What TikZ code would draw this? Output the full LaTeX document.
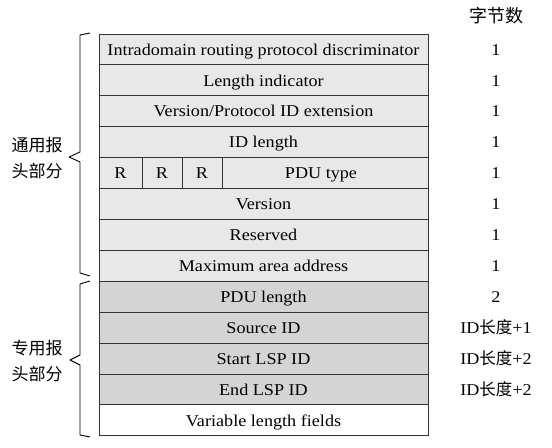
\documentclass[tikz,border=0pt]{standalone}
\usepackage{fontspec}
\setmainfont{Liberation Serif}[FakeStretch=1.1]
\newfontfamily\cjk{Noto Sans CJK SC}
\begin{document}
\begin{tikzpicture}[x=1bp,y=-1bp,
  cellA/.style={draw=black!80,line width=0.8bp,fill=black!9},
  cellB/.style={draw=black!80,line width=0.8bp,fill=black!17},
  cellC/.style={draw=black!80,line width=0.8bp,fill=white},
  lab/.style={font=\fontsize{16.5bp}{18bp}\selectfont,inner sep=0pt,anchor=base},
  num/.style={font=\fontsize{16.5bp}{18bp}\selectfont,inner sep=0pt,anchor=base},
  cnlab/.style={font=\cjk\fontsize{17bp}{26bp}\selectfont,inner sep=0pt,align=left},
  brace/.style={draw=black,line width=0.9bp,line join=round}]
\useasboundingbox (0,0) rectangle (552,448);
% rows
\def\xl{99}\def\xr{428}
\foreach \i/\t/\s/\n in {0/Intradomain routing protocol discriminator/cellA/1,
  1/Length indicator/cellA/1,
  2/Version\slash Protocol ID extension/cellA/1,
  3/ID length/cellA/1,
  5/Version/cellA/1,
  6/Reserved/cellA/1,
  7/Maximum area address/cellA/1,
  8/PDU length/cellB/2}{
  \path[\s] (\xl,34+\i*30.9) rectangle (\xr,34+\i*30.9+30.9);
  \node[lab] (r\i) at (263.5,34+\i*30.9+21.2) {\t};
  \node[num] (n\i) at (496,34+\i*30.9+21.2) {\n};
}
% row 4: R R R PDU type
\path[cellA] (\xl,34+4*30.9) rectangle (142,34+5*30.9);
\path[cellA] (142,34+4*30.9) rectangle (182,34+5*30.9);
\path[cellA] (182,34+4*30.9) rectangle (222,34+5*30.9);
\path[cellA] (222,34+4*30.9) rectangle (\xr,34+5*30.9);
\node[lab] (ra) at (120.5,34+4*30.9+21.2) {R};
\node[lab] (rb) at (162,34+4*30.9+21.2) {R};
\node[lab] (rc) at (202,34+4*30.9+21.2) {R};
\node[lab] (r4) at (321,34+4*30.9+21.2) {PDU type};
\node[num] (n4) at (496,34+4*30.9+21.2) {1};
% rows 9-12
\foreach \i/\t/\s/\n in {9/Source ID/cellB/{ID{\cjk 长度}+1},
  10/Start LSP ID/cellB/{ID{\cjk 长度}+2},
  11/End LSP ID/cellB/{ID{\cjk 长度}+2},
  12/Variable length fields/cellC/{}}{
  \path[\s] (\xl,34+\i*30.9) rectangle (\xr,34+\i*30.9+30.9);
  \node[lab] (r\i) at (263.5,34+\i*30.9+21.2) {\t};
  \node[num] (n\i) at (496,34+\i*30.9+21.2) {\n};
}
\node[cnlab,font=\cjk\fontsize{18bp}{20bp}\selectfont] (head) at (496,16) {字节数};
% braces
\draw[brace] (90,33) -- (80,35) -- (80,152) -- (69,157) -- (80,162) -- (80,273) -- (90,276);
\draw[brace] (90,281) -- (80,284) -- (80,355) -- (70,360) -- (80,365) -- (80,435) -- (90,437);
\node[cnlab] (g1) at (37,158) {通用报\\头部分};
\node[cnlab] (g2) at (37,361) {专用报\\头部分};
\end{tikzpicture}
\end{document}
